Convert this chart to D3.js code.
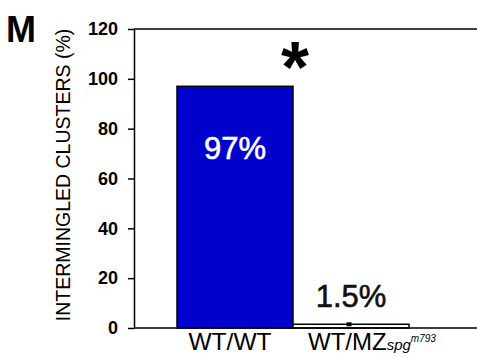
<!DOCTYPE html>
<html>
<head>
<meta charset="utf-8">
<script src="https://cdn.jsdelivr.net/npm/d3@7"></script>
<style>
  body { margin: 0; background: #fff; }
  svg { display: block; font-family: "Liberation Sans", Arial, sans-serif; }
</style>
</head>
<body>
<svg id="chart" width="477" height="357"></svg>
<script>
// chart data
const categories = ["WT/WT", "WT/MZ"];
const values = [97, 1.5];
const errors = [0, 0.8];
const valueLabels = ["97%", "1.5%"];
const yTicks = [0, 20, 40, 60, 80, 100, 120];

const svg = d3.select("#chart");
const mLeft = 134, mRight = 477, mTop = 29, mBottom = 328;

const y = d3.scaleLinear().domain([0, 120]).range([mBottom, mTop]);
const x = d3.scaleBand().domain(categories).range([177, 409]).padding(0);

// panel letter
svg.append("text")
    .attr("x", 6).attr("y", 42)
    .attr("font-size", 36).attr("font-weight", "bold")
    .text("M");

// y axis title
svg.append("text")
    .attr("transform", "translate(70,175) rotate(-90)")
    .attr("text-anchor", "middle")
    .attr("font-size", 19.5)
    .text("INTERMINGLED CLUSTERS (%)");

// bars
svg.selectAll("rect.bar")
  .data(categories)
  .join("rect")
    .attr("class", "bar")
    .attr("x", d => x(d))
    .attr("width", x.bandwidth())
    .attr("y", (d, i) => y(values[i]))
    .attr("height", (d, i) => y(0) - y(values[i]))
    .attr("fill", (d, i) => i === 0 ? "#0000cd" : "#fff")
    .attr("stroke", "#000")
    .attr("stroke-width", 1.5);

// error mark
svg.selectAll("line.err")
  .data(categories.filter((d, i) => errors[i] > 0))
  .join("line")
    .attr("class", "err")
    .attr("x1", d => x(d) + x.bandwidth() / 2 - 2)
    .attr("x2", d => x(d) + x.bandwidth() / 2 - 2)
    .attr("y1", d => y(values[categories.indexOf(d)] - errors[categories.indexOf(d)]))
    .attr("y2", d => y(values[categories.indexOf(d)] + errors[categories.indexOf(d)]))
    .attr("stroke", "#000").attr("stroke-width", 5);

// axes
const yAxis = svg.append("g")
    .attr("transform", `translate(${mLeft},0)`)
    .call(d3.axisLeft(y).tickValues(yTicks).tickSize(6).tickSizeOuter(0).tickPadding(10));
yAxis.select(".domain").attr("stroke-width", 1.5);
yAxis.selectAll(".tick line").attr("stroke-width", 1.5);
yAxis.selectAll(".tick text")
    .attr("font-size", 18).attr("font-weight", "bold")
    .attr("font-family", "Liberation Sans, Arial, sans-serif");

svg.append("line")
    .attr("x1", mLeft).attr("x2", mRight)
    .attr("y1", y(0)).attr("y2", y(0))
    .attr("stroke", "#000").attr("stroke-width", 1.5);
svg.append("line")
    .attr("x1", mLeft).attr("x2", mRight)
    .attr("y1", y(120)).attr("y2", y(120))
    .attr("stroke", "#000").attr("stroke-width", 1.5);

// value labels
svg.append("text")
    .attr("x", x(categories[0]) + x.bandwidth() / 2)
    .attr("y", 159)
    .attr("text-anchor", "middle")
    .attr("font-size", 31).attr("fill", "#fff")
    .attr("stroke", "#fff").attr("stroke-width", 0.6)
    .text(valueLabels[0]);
svg.append("text")
    .attr("x", x(categories[1]) + x.bandwidth() / 2)
    .attr("y", 307)
    .attr("text-anchor", "middle")
    .attr("font-size", 31).attr("fill", "#111")
    .attr("stroke", "#111").attr("stroke-width", 0.6)
    .text(valueLabels[1]);

// significance star
svg.append("text")
    .attr("x", x(categories[1]) + 2)
    .attr("y", 92)
    .attr("text-anchor", "middle")
    .attr("font-size", 72).attr("font-weight", "bold")
    .text("*");

// category labels
svg.append("text")
    .attr("x", x(categories[0]) + x.bandwidth() / 2 - 5)
    .attr("y", 350)
    .attr("text-anchor", "middle")
    .attr("font-size", 24.5)
    .text("WT/WT");
const lab2 = svg.append("text")
    .attr("x", 308).attr("y", 350)
    .attr("font-size", 24);
lab2.append("tspan").text("WT/MZ");
lab2.append("tspan").attr("font-size", 15).attr("font-style", "italic").text("spg");
lab2.append("tspan").attr("font-size", 10).attr("font-style", "italic").attr("dy", -8).text("m793");
</script>
</body>
</html>
